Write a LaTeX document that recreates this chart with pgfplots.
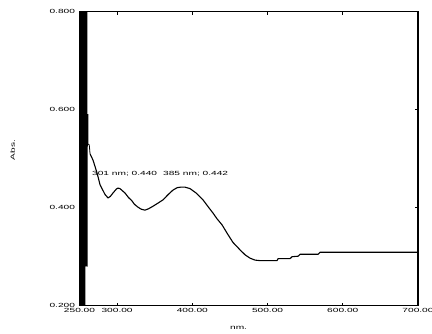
\documentclass[border=0pt]{standalone}
\usepackage{fontspec}
\setmainfont{Liberation Sans}
\newfontfamily\tickfont[FakeStretch=1.7]{Liberation Sans}
\usepackage{pgfplots}
\pgfplotsset{compat=1.18}
\begin{document}
\begin{tikzpicture}
\begin{axis}[
  scale only axis,
  width=338.5bp, height=294bp,
  xmin=250, xmax=700, ymin=0.2, ymax=0.8,
  xtick={250,300,400,500,600,700},
  xticklabels={250.00,300.00,400.00,500.00,600.00,700.00},
  ytick={0.2,0.4,0.6,0.8},
  yticklabels={0.200,0.400,0.600,0.800},
  tick align=inside,
  major tick length=3bp,
  tick style={black, line width=1bp},
  axis line style={line width=1.3bp},
  ticklabel style={font=\tickfont\fontsize{6}{7}\selectfont},
  xticklabel style={yshift=1bp},
  yticklabel style={xshift=-1bp},
  xlabel={nm.}, ylabel={Abs.},
  label style={font=\tickfont\fontsize{6}{7}\selectfont},
  xlabel style={at={(axis description cs:0.47,0)}, anchor=north, yshift=-17bp},
  ylabel style={at={(axis description cs:0,0.53)}, anchor=south, xshift=0bp, yshift=61bp},
  clip=true,
]
\coordinate (A) at (rel axis cs:0,0);
% noisy region near 250 nm
\addplot[black, line width=0.8bp] coordinates {
(250,0.2)(250.3,0.8)(250.6,0.2)(250.9,0.8)(251.2,0.2)(251.5,0.8)(251.8,0.2)(252.1,0.8)
(252.4,0.2)(252.7,0.8)(253.0,0.2)(253.3,0.8)(253.6,0.2)(253.9,0.8)(254.2,0.2)(254.5,0.8)
(254.8,0.2)(255.1,0.8)(255.4,0.2)(255.7,0.8)(256.0,0.2)(256.3,0.8)(256.6,0.2)(256.9,0.8)
(257.2,0.2)(257.5,0.8)(257.8,0.28)(258.1,0.8)(258.4,0.28)(258.7,0.8)(259.0,0.28)(259.3,0.8)
(259.6,0.28)(259.9,0.8)(260.2,0.28)(260.5,0.59)(261.2,0.59)(261.4,0.53)(263,0.528)(264,0.51)
};
\addplot[black, line width=1.1bp] coordinates {
(264,0.51)
(268,0.497)(273.3,0.471)(277.3,0.447)(283.9,0.427)(287.9,0.420)(291,0.423)(294.5,0.430)
(299,0.438)(301,0.440)(303.8,0.439)(306,0.436)(310.5,0.430)(315,0.421)(319.7,0.414)(323,0.407)
(327.8,0.401)(332,0.397)(337.1,0.395)(342,0.398)(347.7,0.403)(354,0.409)(361,0.416)
(368,0.427)(374.3,0.436)(380,0.441)(385,0.442)(390,0.442)(396.9,0.439)(405,0.430)
(414.2,0.416)(421,0.402)(427.5,0.389)(433,0.377)(439.5,0.365)(447,0.346)(454.1,0.329)
(463.4,0.314)(470,0.304)(476.7,0.297)(483.4,0.293)(490,0.292)(512.6,0.292)(514,0.296)
(529.9,0.296)(532.6,0.300)(540.6,0.301)(543.3,0.305)(567.2,0.305)(569.9,0.309)(700,0.309)
};
\node[anchor=west, font=\tickfont\fontsize{6}{7}\selectfont, inner sep=0pt] at (axis cs:266.6,0.470) {301 nm; 0.440};
\node[anchor=west, font=\tickfont\fontsize{6}{7}\selectfont, inner sep=0pt] at (axis cs:361,0.469) {385 nm; 0.442};
\end{axis}
\pgfresetboundingbox
\path (A) ++(-79.5bp,-28.3bp) rectangle ++(432bp,334bp);
\end{tikzpicture}
\end{document}
